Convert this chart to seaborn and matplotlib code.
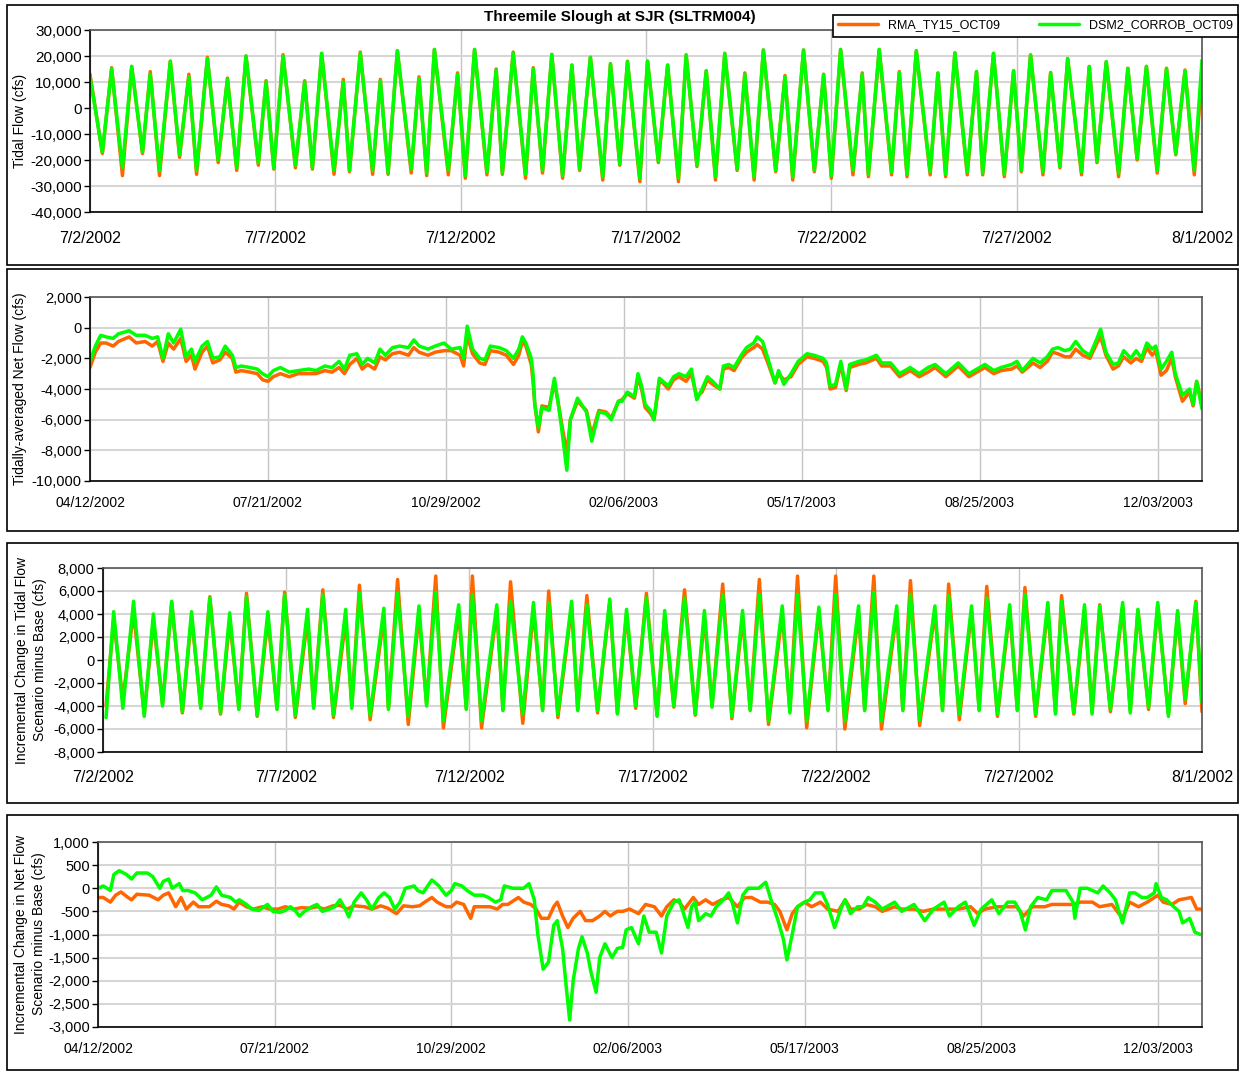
import pandas as pd
import matplotlib
matplotlib.use("Agg")
import matplotlib.pyplot as plt
from matplotlib.patches import Rectangle
from matplotlib.lines import Line2D
from matplotlib.ticker import FuncFormatter, MultipleLocator
import seaborn as sns

# ---- data ----
series_names = ["RMA_TY15_OCT09", "DSM2_CORROB_OCT09"]

# panel 1: tidal flow, hours after 7/2/2002 (peaks and troughs)
tide_hours = [0, 8, 14, 21, 27, 34, 39, 45, 52, 58,
              64, 69, 76, 83, 89, 95, 101, 109, 114, 119,
              125, 133, 139, 144, 150, 158, 164, 168, 175, 183,
              188, 193, 199, 208, 213, 218, 223, 232, 238, 243,
              249, 257, 263, 267, 274, 282, 287, 293, 299, 306,
              312, 317, 324, 332, 337, 343, 348, 356, 361, 368,
              374, 381, 386, 393, 399, 405, 411, 419, 424, 430,
              436, 444, 450, 455, 462, 469, 475, 480, 486, 494,
              500, 504, 511, 519, 524, 529, 535, 544, 549, 554,
              560, 568, 574, 578, 585, 592, 598, 603, 609, 617,
              622, 628, 633, 642, 647, 652, 658, 666, 672, 678,
              684, 691, 697, 703, 709, 715, 720]
tide_dsm2 = [12000, -17000, 15000, -23000, 16000, -17000, 13000, -24000, 18000, -18000,
             12000, -24000, 19000, -20000, 11000, -23000, 20000, -21000, 10000, -23000,
             20000, -22000, 10000, -23000, 21000, -24000, 10000, -24000, 21000, -24000,
             10500, -25000, 22000, -23500, 11400, -25000, 22500, -24000, 13000, -26000,
             22500, -24500, 14600, -25000, 21000, -25500, 15000, -24000, 20600, -26000,
             16500, -23500, 19500, -26500, 17000, -21500, 17800, -27000, 18000, -20500,
             16500, -27000, 20400, -22000, 14300, -26500, 21000, -23500, 13000, -26500,
             22300, -24000, 12000, -26500, 22300, -24000, 12700, -26000, 22500, -24000,
             13000, -25500, 22500, -24500, 13600, -25500, 22000, -24500, 13300, -25500,
             21200, -24500, 14000, -25000, 21000, -25500, 14300, -24000, 20400, -24500,
             13600, -22500, 19000, -24500, 15900, -20500, 17800, -25000, 15200, -19500,
             16000, -24000, 15200, -17500, 14300, -24000, 18400]
tide_rma = [13000, -17500, 15500, -26000, 16000, -17500, 14000, -26000, 18000, -19000,
            13000, -25500, 19500, -21000, 11500, -24000, 20000, -22000, 10500, -23500,
            20500, -23000, 10500, -23500, 21000, -25500, 11000, -24500, 21500, -25500,
            11000, -25500, 22000, -25000, 12000, -26000, 22500, -25700, 13500, -27000,
            22500, -25700, 15000, -25500, 21500, -27000, 15500, -25000, 20600, -27000,
            16500, -24000, 19500, -27700, 17000, -22000, 18000, -28300, 18000, -21000,
            16500, -28300, 20400, -22500, 14300, -27700, 21000, -24000, 13500, -27700,
            22300, -24500, 12500, -27700, 22300, -24500, 13000, -27000, 22500, -25700,
            13500, -26400, 22500, -25700, 14000, -26400, 22000, -25700, 13500, -26400,
            21200, -25700, 14000, -25700, 21000, -26400, 14300, -24500, 20400, -25700,
            13600, -23000, 19000, -25700, 16000, -21000, 17800, -26400, 15300, -20000,
            16000, -25000, 15300, -18000, 14600, -25700, 13000]

# panel 2: tidally-averaged net flow, days after 04/12/2002
net_days = [0, 3, 6, 9, 13, 16, 22, 26, 31, 35, 38, 41, 44, 47, 51, 54, 57, 59, 63, 66,
            69, 73, 76, 80, 82, 85, 90, 94, 97, 100, 103, 107, 112, 117, 123, 127, 132, 136, 140, 143,
            146, 150, 153, 156, 160, 163, 166, 170, 174, 179, 182, 185, 190, 194, 199, 203, 208, 210, 212, 215,
            219, 222, 225, 230, 234, 238, 241, 243, 245, 248, 249, 250, 252, 254, 258, 261, 263, 265, 268, 270,
            274, 279, 282, 286, 290, 293, 297,
            299, 302, 306, 308, 310, 312, 315, 317, 320, 322, 325, 328, 331, 335, 338, 341, 344, 347, 350, 354,
            356, 359, 362, 366, 369, 373, 375, 378, 381, 385, 387, 390, 394, 398, 403, 407, 412, 414, 416, 419,
            422, 425, 427, 432, 436, 442, 445, 450, 455, 461, 466, 471, 475, 481, 488, 494, 500, 503, 508, 512,
            518, 521, 524, 530, 534, 538, 541, 544, 548, 551, 554, 558, 562, 566, 568, 571, 575, 578, 581, 585,
            588, 591, 594, 597, 599, 602, 605, 608, 610, 614, 618, 620, 622, 625]
net_dsm2 = [-2200, -1200, -500, -600, -700, -400, -200, -500, -500, -700,
            -600, -2000, -400, -1000, -100, -1900, -1400, -2200, -1200, -900,
            -2000, -1900, -1200, -1800, -2600, -2500, -2600, -2700, -3000, -3200,
            -2800, -2600, -2900, -2800, -2700, -2800, -2500, -2600, -2200, -2700,
            -1800, -1700, -2400, -2000, -2300, -1400, -1800, -1300, -1200, -1300,
            -800, -1200, -1400, -1200, -1000, -1400, -1300, -2000, 100, -1400,
            -2000, -2100, -1200, -1300, -1500, -2000, -1400, -600, -1000, -2000,
            -3000, -5000, -6500, -5200, -5400, -3300, -4800, -6500, -9300, -6000,
            -4600, -5500, -7400, -5500, -5600, -6000, -4800,
            -4800, -4200, -4500, -3000, -3800, -5000, -5400, -6000, -3300, -3500,
            -3800, -3200, -3000, -3200, -2700, -4700, -4000, -3200, -3500, -4000,
            -2500, -2400, -2600, -1800, -1300, -1000, -600, -900, -2000, -3600,
            -2800, -3700, -3000, -2200, -1700, -1800, -2000, -2300, -3800, -3700,
            -2200, -4000, -2400, -2200, -2100, -1800, -2300, -2300, -3000, -2600,
            -3000, -2600, -2400, -3000, -2300, -3000, -2600, -2400, -2800, -2600,
            -2400, -2200, -2800, -2000, -2300, -1900, -1400, -1300, -1500, -1400,
            -900, -1500, -1800, -700, -100, -1600, -2400, -2300, -1500, -2000,
            -1500, -2000, -1000, -1400, -1200, -2700, -2200, -1600, -3000, -4400,
            -4000, -5000, -3500, -5300]
net_rma = [-2600, -1600, -1000, -1000, -1200, -900, -600, -1000, -900, -1200,
           -900, -2200, -1000, -1400, -700, -2200, -1800, -2700, -1600, -1200,
           -2300, -2100, -1600, -2000, -2900, -2800, -2900, -3000, -3400, -3500,
           -3200, -3000, -3200, -3000, -3000, -3000, -2800, -2900, -2600, -3000,
           -2400, -2000, -2700, -2400, -2700, -1900, -2100, -1700, -1600, -1800,
           -1300, -1600, -1800, -1600, -1500, -1500, -1800, -2500, -500, -1700,
           -2300, -2400, -1500, -1600, -1800, -2400, -1800, -900, -1200, -2400,
           -3500, -5000, -6800, -5100, -5200, -3600, -4800, -6200, -8200, -6000,
           -4800, -5400, -7000, -5400, -5500, -5900, -4800,
           -4700, -4300, -4600, -3200, -4000, -5200, -5600, -6000, -3500, -3600,
           -4000, -3400, -3200, -3500, -3000, -4500, -4200, -3400, -3700, -4000,
           -2700, -2600, -2800, -2000, -1600, -1300, -1100, -1400, -2300, -3600,
           -3000, -3400, -3200, -2400, -1900, -2000, -2200, -2600, -4000, -3900,
           -2400, -4100, -2600, -2400, -2300, -2000, -2500, -2500, -3200, -2800,
           -3200, -2900, -2600, -3200, -2500, -3200, -2800, -2600, -3000, -2800,
           -2700, -2500, -2900, -2300, -2600, -2200, -1600, -1700, -1900, -1900,
           -1400, -1800, -2000, -1000, -600, -1800, -2700, -2500, -1900, -2300,
           -2000, -2200, -1300, -1800, -1500, -3100, -2800, -2000, -3200, -4800,
           -4200, -5100, -3500, -5000]

# panel 3: incremental change in tidal flow, hours after 7/2/2002
dtide_hours = [2, 7, 13, 20, 27, 33, 39, 45, 52, 58,
               64, 70, 77, 83, 89, 94, 101, 108, 114, 119,
               126, 134, 138, 144, 151, 159, 163, 168, 175, 184,
               187, 193, 200, 207, 212, 218, 223, 233, 238, 242,
               248, 258, 262, 267, 275, 282, 288, 292, 298, 307,
               311, 317, 324, 332, 337, 343, 349, 356, 363, 368,
               374, 381, 388, 394, 399, 406, 412, 419, 424, 430,
               436, 445, 450, 455, 461, 469, 475, 480, 486, 495,
               499, 505, 510, 520, 524, 529, 535, 545, 550, 554,
               561, 569, 574, 579, 586, 594, 599, 604, 611, 619,
               624, 628, 636, 643, 648, 653, 660, 668, 673, 678,
               685, 691, 698, 704, 709, 716, 720]
dtide_dsm2 = [-5000, 4200, -4200, 5100, -4900, 4000, -4000, 5100, -4500, 4200,
              -4200, 5400, -4600, 4100, -4300, 5500, -4800, 4200, -4300, 5700,
              -4800, 4400, -4200, 5700, -4800, 4400, -4200, 5800, -4800, 4500,
              -4300, 5800, -4900, 4700, -4000, 5900, -5300, 4800, -4300, 5700,
              -5300, 4800, -4400, 5100, -4700, 5000, -4400, 5000, -4700, 5100,
              -4400, 4800, -4400, 5300, -4700, 4400, -4000, 5400, -4900, 4300,
              -4000, 5400, -4700, 4300, -4100, 5700, -4900, 4300, -4400, 5700,
              -5300, 4700, -4600, 5700, -5300, 4600, -4400, 5700, -5300, 4700,
              -4400, 5900, -5300, 4700, -4400, 5700, -5200, 4700, -4400, 5600,
              -4700, 4700, -4400, 5400, -4700, 4800, -4400, 5700, -4700, 5000,
              -4700, 5100, -4600, 4800, -4700, 4700, -4300, 5000, -4600, 4400,
              -4100, 5000, -4900, 4300, -3400, 5000, -3700]
dtide_rma = [-4000, 3500, -3500, 4200, -4700, 3400, -3800, 5000, -4600, 3800,
             -4000, 5500, -4700, 3500, -4200, 5800, -4900, 3600, -4200, 5900,
             -5000, 3600, -4000, 6100, -5000, 3500, -4000, 6500, -5200, 3800,
             -4200, 7000, -5600, 4000, -3800, 7300, -5900, 4200, -4200, 7300,
             -5900, 4300, -4300, 6800, -5500, 4300, -4300, 6000, -5000, 4600,
             -4300, 5600, -4600, 5000, -4600, 4000, -4200, 5800, -4800, 3800,
             -4100, 6100, -4800, 3700, -4000, 6600, -5100, 3700, -4300, 7000,
             -5600, 4000, -4400, 7300, -5900, 4200, -4300, 7300, -6000, 4100,
             -4300, 7300, -6000, 4200, -4300, 6900, -5700, 4200, -4300, 6600,
             -5200, 4200, -4300, 6400, -4900, 4300, -4300, 6300, -4900, 4500,
             -4500, 5600, -4700, 4300, -4500, 4800, -4500, 4600, -4400, 4300,
             -4300, 4700, -4700, 4000, -3800, 5100, -4500]

# panel 4: incremental change in net flow, days after 04/12/2002
dnet_dsm2_days = [0, 3, 7, 9, 12, 16, 19, 22, 28, 31, 35, 37, 40, 42, 46, 48, 51, 55, 59, 64,
                  67, 70, 75, 78, 80, 84, 87, 91, 94, 96, 99, 103, 106, 109, 112, 114, 117, 121, 124, 127,
                  131, 134, 137, 140, 142, 145, 149, 152, 155, 159, 162, 165, 168, 171, 174, 179, 181, 184, 189, 193,
                  197, 200, 202, 206, 209, 213, 218, 221, 225, 228, 230, 235, 238, 241, 244, 247, 249, 252, 255, 258,
                  260, 263, 265, 267, 269, 272, 274, 277, 279, 282, 284, 287, 291, 294,
                  297, 299, 302, 306, 309, 312, 316, 319, 322, 326, 329, 334, 336, 338, 340, 344, 347, 350, 354, 357,
                  359, 362, 365, 368, 374, 378, 381, 385, 388, 390, 393, 396, 400, 403, 406, 410, 413, 417, 421, 423,
                  426, 430, 433, 436, 440, 444, 451, 455, 462, 468, 473, 479, 482, 487, 491, 496, 500, 506, 510, 515,
                  519, 522, 525, 528, 532, 537, 540, 548, 552, 553, 556, 560, 563, 566, 569, 573, 576, 580, 584, 587,
                  591, 594, 598, 599, 602, 605, 609, 612, 614, 618, 621, 624]
dnet_dsm2 = [0, 50, -50, 300, 380, 300, 200, 330, 330, 250, 0, 150, 200, 0, 100, -50, -50, -100, -250, -150,
             30, -150, -200, -300, -250, -350, -450, -480, -400, -350, -500, -520, -480, -400, -500, -600, -500, -400, -350, -500,
             -450, -400, -250, -450, -620, -300, -100, -250, -450, -200, -100, -200, -450, -300, 0, 50, -50, -100, 180, 50,
             -150, -50, 100, 50, -50, -150, -150, -200, -300, -250, 50, 0, 0, 0, 100, -250, -1000, -1750, -1600, -800,
             -700, -1300, -2100, -2850, -2000, -1300, -1050, -1400, -1800, -2250, -1500, -1200, -1500, -1300,
             -1280, -900, -850, -1200, -600, -950, -950, -1400, -600, -300, -250, -850, -400, -300, -700, -550, -600, -400, -250, -100,
             -300, -750, -150, 0, 0, 130, -250, -700, -1100, -1550, -1000, -400, -300, -250, -100, -100, -350, -850, -400, -250,
             -550, -400, -400, -200, -300, -450, -300, -500, -350, -700, -450, -300, -600, -400, -300, -800, -450, -250, -550, -300,
             -300, -500, -900, -400, -200, -250, -50, -50, -300, -650, 0, 0, -50, -100, 50, -100, -250, -750, -100, -100,
             -200, -200, -100, 100, -200, -250, -400, -500, -750, -650, -950, -1000]
dnet_rma_days = [0, 3, 7, 10, 13, 17, 19, 22, 29, 34, 37, 40, 44, 47, 50, 54, 57, 63, 67, 70,
                 74, 77, 80, 84, 88, 93, 97, 102, 106, 111, 115, 120, 124, 128, 133, 137, 141, 145, 151, 155,
                 160, 164, 169, 173, 178, 182, 185, 189, 192, 197, 200, 203, 207, 211, 213, 218, 222, 226, 229, 232,
                 236, 238, 241, 245, 248, 251, 255, 258, 260, 263, 266, 269, 273, 276, 280, 284, 287, 290, 294,
                 297, 301, 306, 310, 315, 319, 322, 326, 329, 332, 337, 340, 344, 348, 353, 357, 362, 366, 370, 375,
                 379, 383, 386, 390, 393, 396, 400, 404, 409, 413, 419, 423, 426, 431, 435, 440, 444, 451, 455, 462,
                 467, 473, 478, 482, 487, 494, 498, 502, 509, 516, 520, 524, 529, 536, 540, 547, 552, 556, 563, 567,
                 574, 580, 584, 589, 594, 600, 603, 608, 612, 619, 622, 625]
dnet_rma = [-200, -200, -300, -150, -80, -200, -250, -130, -150, -250, -150, -100, -400, -200, -450, -300, -400, -400, -280, -350,
            -380, -450, -300, -400, -450, -400, -450, -450, -400, -450, -420, -430, -400, -450, -380, -370, -450, -380, -400, -450,
            -380, -430, -550, -380, -400, -380, -300, -200, -300, -400, -400, -300, -350, -650, -400, -400, -400, -450, -350, -350,
            -250, -200, -300, -350, -450, -650, -650, -400, -300, -600, -850, -650, -500, -700, -700, -600, -500, -600, -500,
            -500, -450, -550, -350, -400, -600, -400, -250, -300, -450, -200, -350, -250, -350, -250, -200, -400, -200, -200, -300,
            -300, -350, -500, -900, -550, -400, -300, -400, -300, -450, -500, -250, -450, -450, -350, -400, -500, -400, -450, -450,
            -500, -450, -450, -450, -450, -400, -550, -450, -400, -400, -400, -600, -400, -400, -350, -350, -350, -300, -300, -400,
            -350, -650, -300, -400, -300, -150, -300, -350, -250, -200, -450, -450]

# axis ticks
tide_tick_dates = ["2002-07-02", "2002-07-07", "2002-07-12", "2002-07-17", "2002-07-22", "2002-07-27", "2002-08-01"]
tide_tick_labels = ["7/2/2002", "7/7/2002", "7/12/2002", "7/17/2002", "7/22/2002", "7/27/2002", "8/1/2002"]
net_tick_dates = ["2002-04-12", "2002-07-21", "2002-10-29", "2003-02-06", "2003-05-17", "2003-08-25", "2003-12-03"]
net_tick_labels = ["04/12/2002", "07/21/2002", "10/29/2002", "02/06/2003", "05/17/2003", "08/25/2003", "12/03/2003"]

# ---- style ----
sns.set_style("white")
plt.rcParams['font.family'] = ['Liberation Sans', 'DejaVu Sans']
plt.rcParams['text.color'] = 'black'
plt.rcParams['xtick.color'] = 'black'
plt.rcParams['ytick.color'] = 'black'

ORANGE = '#FF6600'
GREEN = '#00FF00'
LW = 2.5

W, H = 1243, 1072
fig = plt.figure(figsize=(W / 100, H / 100), dpi=100)


def px_axes(l, t, r, b):
    return fig.add_axes([l / W, 1 - b / H, (r - l) / W, (b - t) / H])


def frame(t, b):
    fig.patches.append(Rectangle((7 / W, 1 - b / H), (1238 - 7) / W, (b - t) / H,
                                 transform=fig.transFigure, fill=False,
                                 edgecolor='black', lw=1.2, zorder=0))


def style(ax, ylim, ystep, xlim, tick_dates, tick_labels, fs_x, pad_x, fs_y):
    ax.set_ylim(*ylim)
    ax.yaxis.set_major_locator(MultipleLocator(ystep))
    ax.yaxis.set_major_formatter(FuncFormatter(lambda v, p: f'{v:,.0f}'))
    ax.set_xlim(pd.Timestamp(xlim[0]), pd.Timestamp(xlim[1]))
    ax.set_xticks(pd.to_datetime(tick_dates))
    ax.set_xticklabels(tick_labels)
    ax.grid(axis='y', color='#d6d6d6', lw=1.5)
    ax.grid(axis='x', color='#c4c4c4', lw=1)
    ax.set_axisbelow(True)
    ax.tick_params(axis='x', length=0, pad=pad_x, labelsize=fs_x)
    ax.tick_params(axis='y', left=True, length=4, width=1, direction='out', pad=2, labelsize=fs_y)
    for s in ax.spines.values():
        s.set_color('#555555')
        s.set_linewidth(1.2)
    ax.spines['left'].set_color('black')
    ax.spines['bottom'].set_color('black')
    ax.set_xlabel('')
    ax.set_ylabel('')


def draw(ax, x, y_rma, y_dsm2, x2=None):
    df_a = pd.DataFrame({'t': x, 'v': y_rma})
    df_b = pd.DataFrame({'t': x if x2 is None else x2, 'v': y_dsm2})
    sns.lineplot(data=df_a, x='t', y='v', ax=ax, color=ORANGE, lw=LW, errorbar=None)
    sns.lineplot(data=df_b, x='t', y='v', ax=ax, color=GREEN, lw=LW, errorbar=None)


tide_start = pd.Timestamp('2002-07-02')
net_start = pd.Timestamp('2002-04-12')

# panel 1
frame(5, 265)
ax1 = px_axes(90, 30, 1202, 212)
draw(ax1, tide_start + pd.to_timedelta(tide_hours, unit='h'), tide_rma, tide_dsm2)
style(ax1, (-40000, 30000), 10000, ("2002-07-02", "2002-08-01"),
      tide_tick_dates, tide_tick_labels, 11.5, 14, 11)

# panel 2
frame(269, 531)
ax2 = px_axes(90, 297, 1202, 481)
draw(ax2, net_start + pd.to_timedelta(net_days, unit='D'), net_rma, net_dsm2)
style(ax2, (-10000, 2000), 2000, ("2002-04-12", "2003-12-28"),
      net_tick_dates, net_tick_labels, 10, 11, 10.5)

# panel 3
frame(543, 803)
ax3 = px_axes(103, 568, 1202, 752)
draw(ax3, tide_start + pd.to_timedelta(dtide_hours, unit='h'), dtide_rma, dtide_dsm2)
style(ax3, (-8000, 8000), 2000, ("2002-07-02", "2002-08-01"),
      tide_tick_dates, tide_tick_labels, 11.5, 13, 10.5)

# panel 4
frame(815, 1070)
ax4 = px_axes(98, 842, 1202, 1027)
draw(ax4, net_start + pd.to_timedelta(dnet_rma_days, unit='D'), dnet_rma, dnet_dsm2,
     net_start + pd.to_timedelta(dnet_dsm2_days, unit='D'))
style(ax4, (-3000, 1000), 500, ("2002-04-12", "2003-12-28"),
      net_tick_dates, net_tick_labels, 10, 11, 10.5)

# texts
fig.text(620 / W, 1 - 17 / H, "Threemile Slough at SJR (SLTRM004)", ha='center', va='center',
         fontsize=11, fontweight='bold')
fig.text(20 / W, 1 - 121 / H, "Tidal Flow (cfs)", rotation=90, ha='center', va='center', fontsize=10)
fig.text(20 / W, 1 - 389 / H, "Tidally-averaged Net Flow (cfs)", rotation=90, ha='center',
         va='center', fontsize=10)
fig.text(31 / W, 1 - 660 / H, "Incremental Change in Tidal Flow\nScenario minus Base (cfs)",
         rotation=90, ha='center', va='center', multialignment='center', fontsize=10, linespacing=1.3)
fig.text(30 / W, 1 - 934 / H, "Incremental Change in Net Flow\nScenario minus Base (cfs)",
         rotation=90, ha='center', va='center', multialignment='center', fontsize=10, linespacing=1.3)

# legend
handles = [Line2D([], [], color=ORANGE, lw=LW), Line2D([], [], color=GREEN, lw=LW)]
leg = fig.legend(handles, series_names, loc='center',
                 bbox_to_anchor=(833 / W, 1 - 41 / H, 405 / W, 31 / H), mode='expand',
                 ncol=2, frameon=True, fancybox=False, edgecolor='black', fontsize=9,
                 handlelength=3.2, borderaxespad=0, framealpha=1)
leg.get_frame().set_linewidth(1.2)
leg.set_zorder(10)

fig.savefig('out.png', dpi=100)
